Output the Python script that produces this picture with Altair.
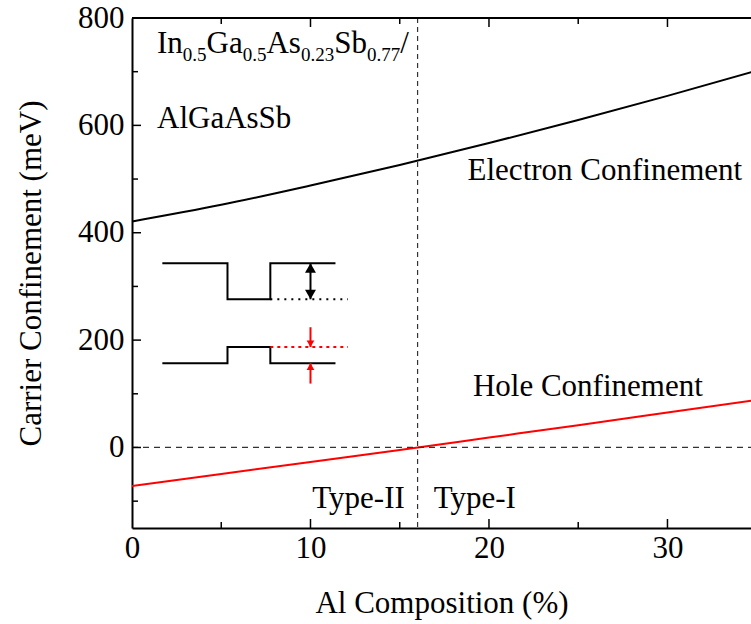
import altair as alt
import pandas as pd

# ---------------- data ----------------
al_comp = [0, 5, 10, 15, 20, 25, 30, 35]
electron = [421, 452, 488, 526, 567, 610, 655, 702]
hole = [-72, -49.5, -27, -4.5, 18.5, 41.5, 65, 88.5]
boundary_x = 16

x_major = [0, 10, 20, 30]
x_minor = [5, 15, 25, 35]
y_major = [0, 200, 400, 600, 800]
y_minor = [-100, 100, 300, 500, 700]

# inset band schematic (x in %, y in meV)
cb_x = [1.7, 5.35, 5.35, 7.75, 7.75, 11.4]
cb_y = [343, 343, 276, 276, 343, 343]
vb_x = [1.7, 5.35, 5.35, 7.75, 7.75, 11.4]
vb_y = [157, 157, 187, 187, 157, 157]
dot_x = [7.75, 12.1]
cb_well, vb_well = 276, 187
cb_barrier, vb_barrier = 343, 157
arrow_x = 10.0
red_top_start, red_bot_start = 224, 119

labels = ["Electron Confinement", "Hole Confinement", "Type-II", "Type-I", "AlGaAsSb"]
label_x = [18.8, 19.1, 10.1, 16.9, 1.4]
label_y = [498, 95, -113, -113, 595]

formula = [("In", 0), ("0.5", 1), ("Ga", 0), ("0.5", 1), ("As", 0), ("0.23", 1),
           ("Sb", 0), ("0.77", 1), ("/", 0)]
formula_x, formula_y = 1.4, 734

# ---------------- layout ----------------
W, H = 619, 510
FONT = "Liberation Serif"
FS = 31
SUB = 19
PX_PER_MEV = H / 950.0

xscale = alt.Scale(domain=[0, 34.68], nice=False, zero=False)
yscale = alt.Scale(domain=[-150, 800], nice=False, zero=False)
xaxis = alt.Axis(values=x_major, title="Al Composition (%)", labelPadding=5,
                 titlePadding=25, format="d", labelFlush=False)
yaxis = alt.Axis(values=y_major, title="Carrier Confinement (meV)", labelPadding=8,
                 titlePadding=30, format="d", labelFlush=False)
X = alt.X("x:Q", scale=xscale, axis=xaxis)
Y = alt.Y("y:Q", scale=yscale, axis=yaxis)

curves = pd.DataFrame({
    "x": al_comp * 2,
    "y": electron + hole,
    "s": ["e"] * len(al_comp) + ["h"] * len(al_comp),
})

base_lines = alt.Chart(curves).mark_line(strokeWidth=2, clip=True, interpolate="monotone").encode(
    x=X, y=Y,
    color=alt.Color("s:N", scale=alt.Scale(domain=["e", "h"], range=["black", "#ff0000"]), legend=None),
)

zero_line = alt.Chart(pd.DataFrame({"y": [0]})).mark_rule(
    color="#333333", strokeDash=[6, 5], strokeWidth=1.2).encode(y=Y, x=alt.value(0), x2=alt.value(W))
vline = alt.Chart(pd.DataFrame({"x": [boundary_x]})).mark_rule(
    color="#333333", strokeDash=[5, 4], strokeWidth=1.2).encode(x=X, y=alt.value(0), y2=alt.value(H))

# frame top
top_rule = alt.Chart(pd.DataFrame({"a": [0]})).mark_rule(color="black", strokeWidth=2).encode(
    y=alt.value(0), x=alt.value(0), x2=alt.value(W))

# inward ticks
def xticks(vals, length):
    df = pd.DataFrame({"x": vals})
    b = alt.Chart(df).mark_rule(color="black", strokeWidth=1.5, clip=True).encode(
        x=X, y=alt.value(H), y2=alt.value(H - length))
    t = alt.Chart(df).mark_rule(color="black", strokeWidth=1.5, clip=True).encode(
        x=X, y=alt.value(0), y2=alt.value(length))
    return b + t

def yticks(vals, length):
    df = pd.DataFrame({"y": vals})
    return alt.Chart(df).mark_rule(color="black", strokeWidth=1.5).encode(
        y=Y, x=alt.value(0), x2=alt.value(length))

ticks = xticks(x_major, 9) + xticks(x_minor, 6) + yticks(y_major, 9) + yticks(y_minor, 6)

# inset
cb = pd.DataFrame({"x": cb_x, "y": cb_y, "i": range(len(cb_x))})
vb = pd.DataFrame({"x": vb_x, "y": vb_y, "i": range(len(vb_x))})
cb_line = alt.Chart(cb).mark_line(color="black", strokeWidth=2).encode(x=X, y=Y, order="i:Q")
vb_line = alt.Chart(vb).mark_line(color="black", strokeWidth=2).encode(x=X, y=Y, order="i:Q")
cb_dot = alt.Chart(pd.DataFrame({"x": dot_x, "y": [cb_well] * 2})).mark_line(
    color="black", strokeWidth=2, strokeDash=[2, 5]).encode(x=X, y=Y)
vb_dot = alt.Chart(pd.DataFrame({"x": dot_x, "y": [vb_well] * 2})).mark_line(
    color="#ff0000", strokeWidth=2, strokeDash=[3, 4]).encode(x=X, y=Y)


def head(tip_y, up, color, size):
    # built-in triangle is centred; shift so that its tip sits on tip_y
    half_h = 0.866 * (size ** 0.5) / 2
    off = half_h / PX_PER_MEV
    cy = tip_y - off if up else tip_y + off
    return alt.Chart(pd.DataFrame({"x": [arrow_x], "y": [cy]})).mark_point(
        shape="triangle-up" if up else "triangle-down", filled=True, color=color,
        size=size, opacity=1, strokeWidth=0).encode(x=X, y=Y)


blk_shaft = alt.Chart(pd.DataFrame({"x": [arrow_x], "y": [cb_well], "y2": [cb_barrier]})).mark_rule(
    color="black", strokeWidth=2).encode(x=X, y=Y, y2="y2:Q")
blk_up = head(cb_barrier, True, "black", 120)
blk_dn = head(cb_well, False, "black", 120)

red_shaft1 = alt.Chart(pd.DataFrame({"x": [arrow_x], "y": [red_top_start], "y2": [vb_well]})).mark_rule(
    color="#ff0000", strokeWidth=2).encode(x=X, y=Y, y2="y2:Q")
red_shaft2 = alt.Chart(pd.DataFrame({"x": [arrow_x], "y": [red_bot_start], "y2": [vb_barrier]})).mark_rule(
    color="#ff0000", strokeWidth=2).encode(x=X, y=Y, y2="y2:Q")
red_dn = head(vb_well, False, "#ff0000", 60)
red_up = head(vb_barrier, True, "#ff0000", 60)

# labels
lab = alt.Chart(pd.DataFrame({"t": labels, "x": label_x, "y": label_y})).mark_text(
    font=FONT, fontSize=FS, align="left", baseline="alphabetic", color="black").encode(
    x=X, y=Y, text="t:N")

# formula with subscripts
WID = {"I": .333, "n": .5, "G": .722, "a": .444, "A": .722, "s": .389, "S": .556,
       "b": .5, "0": .5, "2": .5, "3": .5, "5": .5, "7": .5, ".": .25, "/": .278}
formula_layers = []
cum = 0.0
fdf = pd.DataFrame({"x": [formula_x], "y": [formula_y]})
for txt, sub in formula:
    size = SUB if sub else FS
    formula_layers.append(
        alt.Chart(fdf).mark_text(font=FONT, fontSize=size, align="left", baseline="alphabetic",
                                 color="black", dx=cum, dy=8 if sub else 0, text=txt).encode(x=X, y=Y))
    cum += sum(WID[c] for c in txt) * size

chart = alt.layer(
    base_lines, zero_line, vline, top_rule, ticks,
    cb_line, vb_line, cb_dot, vb_dot, blk_shaft, blk_up, blk_dn,
    red_shaft1, red_shaft2, red_dn, red_up, lab, *formula_layers,
).properties(
    width=W, height=H,
    padding={"left": 132, "top": 18, "right": 0, "bottom": 96},
    autosize=alt.AutoSizeParams(type="none"),
    background="white",
).configure_view(stroke=None).configure_axis(
    labelFont=FONT, titleFont=FONT, labelFontSize=FS, titleFontSize=FS,
    titleFontWeight="normal", labelColor="black", titleColor="black",
    ticks=False, grid=False, domainColor="black", domainWidth=2,
)

chart.save("out.html", embed_options={"renderer": "svg", "actions": False})
